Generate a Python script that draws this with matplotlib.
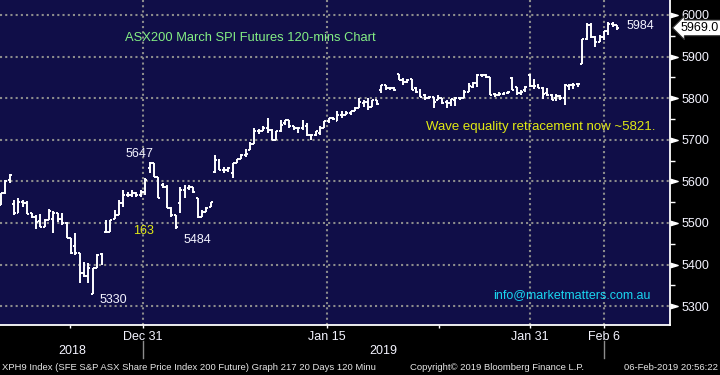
import numpy as np
import matplotlib.pyplot as plt
from matplotlib.lines import Line2D
from matplotlib.transforms import blended_transform_factory

# 120-min OHLC bars of XPH9 (SPI 200 March futures)
opens = [5543, 5571, 5603, 5545, 5523, 5551, 5549, 5523, 5515, 5505, 5491, 5507, 5509, 5525, 5509, 5499,
         5463, 5445, 5427, 5379, 5373, 5329, 5391, 5425,
         5479, 5479, 5509, 5519, 5547, 5567, 5567, 5571, 5567, 5575, 5631, 5643, 5611, 5591, 5587, 5535,
         5519, 5547, 5579, 5583, 5587, 5559, 5515, 5527, 5539,
         5623, 5651, 5627, 5627, 5619, 5643, 5655, 5663, 5675, 5691, 5720, 5720, 5728, 5724, 5699, 5720,
         5740, 5748, 5732, 5728, 5728,
         5732, 5712, 5712, 5716, 5728, 5744, 5752, 5744, 5760, 5760, 5764, 5768, 5776, 5788, 5792, 5780,
         5796, 5820, 5832, 5824, 5824, 5858, 5844, 5840,
         5846, 5824, 5816, 5808, 5800, 5802, 5796, 5800, 5792, 5788, 5796, 5800, 5800, 5816, 5828, 5836,
         5856, 5856, 5850, 5810, 5808, 5810, 5812, 5848,
         5828, 5812, 5820, 5856, 5830, 5830, 5825, 5812, 5808, 5800, 5806, 5800, 5830, 5832, 5834, 5881,
         5942, 5976, 5948, 5936, 5948, 5962, 5978, 5976]
highs = [5571, 5603, 5617, 5555, 5561, 5555, 5553, 5523, 5519, 5521, 5509, 5533, 5529, 5525, 5525, 5503,
         5465, 5475, 5427, 5407, 5405, 5391, 5425, 5427,
         5507, 5507, 5531, 5555, 5579, 5575, 5579, 5575, 5579, 5607, 5647, 5645, 5611, 5595, 5591, 5539,
         5519, 5587, 5591, 5591, 5587, 5559, 5531, 5539, 5551,
         5663, 5655, 5635, 5635, 5645, 5655, 5667, 5679, 5695, 5728, 5726, 5732, 5753, 5726, 5720, 5748,
         5748, 5748, 5732, 5730, 5748,
         5740, 5712, 5720, 5732, 5744, 5752, 5754, 5768, 5768, 5768, 5768, 5780, 5800, 5796, 5800, 5796,
         5796, 5832, 5832, 5828, 5826, 5858, 5848, 5846,
         5846, 5828, 5822, 5810, 5806, 5804, 5808, 5800, 5796, 5798, 5804, 5804, 5820, 5836, 5840, 5858,
         5858, 5858, 5852, 5812, 5814, 5816, 5817, 5852,
         5828, 5820, 5830, 5858, 5846, 5833, 5826, 5824, 5810, 5810, 5808, 5834, 5834, 5836, 5837, 5942,
         5980, 5980, 5950, 5952, 5962, 5984, 5984, 5976]
lows = [5543, 5569, 5595, 5519, 5523, 5539, 5521, 5511, 5485, 5491, 5491, 5507, 5477, 5503, 5495, 5463,
        5425, 5423, 5355, 5371, 5355, 5329, 5391, 5399,
        5477, 5479, 5509, 5519, 5539, 5563, 5563, 5563, 5563, 5567, 5619, 5611, 5559, 5583, 5535, 5515,
        5486, 5523, 5559, 5579, 5571, 5511, 5515, 5527, 5539,
        5619, 5627, 5619, 5623, 5607, 5643, 5655, 5659, 5675, 5691, 5714, 5720, 5716, 5699, 5699, 5718,
        5736, 5728, 5724, 5716, 5724,
        5708, 5700, 5708, 5712, 5728, 5740, 5748, 5744, 5752, 5760, 5760, 5768, 5776, 5780, 5772, 5780,
        5784, 5812, 5820, 5820, 5818, 5844, 5832, 5836,
        5820, 5812, 5804, 5796, 5798, 5777, 5796, 5786, 5776, 5782, 5782, 5796, 5800, 5816, 5824, 5828,
        5852, 5848, 5808, 5804, 5806, 5808, 5811, 5820,
        5808, 5808, 5816, 5828, 5822, 5824, 5798, 5806, 5796, 5794, 5796, 5784, 5820, 5822, 5826, 5881,
        5940, 5944, 5924, 5936, 5940, 5952, 5972, 5964]
closes = [5571, 5601, 5615, 5523, 5551, 5547, 5521, 5515, 5503, 5491, 5507, 5529, 5525, 5509, 5499, 5463,
          5427, 5427, 5379, 5373, 5391, 5391, 5423, 5413,
          5479, 5507, 5519, 5547, 5567, 5567, 5571, 5567, 5575, 5603, 5643, 5611, 5559, 5587, 5535, 5519,
          5490, 5579, 5583, 5587, 5575, 5515, 5527, 5535, 5551,
          5651, 5627, 5627, 5631, 5643, 5655, 5663, 5667, 5691, 5720, 5722, 5728, 5724, 5699, 5720, 5736,
          5748, 5732, 5728, 5728, 5732,
          5712, 5712, 5720, 5728, 5744, 5752, 5750, 5760, 5760, 5764, 5768, 5776, 5792, 5792, 5780, 5796,
          5786, 5832, 5824, 5824, 5820, 5844, 5840, 5844,
          5820, 5816, 5804, 5800, 5802, 5790, 5800, 5788, 5788, 5798, 5800, 5800, 5816, 5830, 5836, 5856,
          5856, 5852, 5808, 5808, 5810, 5812, 5814, 5820,
          5812, 5816, 5828, 5830, 5830, 5825, 5810, 5808, 5796, 5806, 5800, 5832, 5832, 5832, 5834, 5942,
          5976, 5948, 5936, 5948, 5962, 5978, 5976, 5968]

last_price = 5969.0
date_labels = ['Dec 31', 'Jan 15', 'Jan 31', 'Feb 6']
date_pos = [32.5, 74.6, 121.1, 138.0]      # bar index of the date ticks
minor_date_pos = [15.8, 100.2]
price_ticks = list(range(5300, 6001, 100))

BG = '#100e48'
WHITE = '#f4f4ff'
GRID = '#8c8c8c'

plt.rcParams['font.family'] = ['Liberation Sans', 'DejaVu Sans']

fig = plt.figure(figsize=(7.2, 3.75), dpi=100, facecolor='black')
ax = fig.add_axes([0, 50 / 375, 670 / 720, 325 / 375], facecolor=BG)

idx = np.arange(len(closes))
tw = 0.45
ax.vlines(idx, lows, highs, color='white', lw=1.4, zorder=3)
ax.hlines(opens, idx - tw, idx, color='white', lw=1.4, zorder=3)
ax.hlines(closes, idx, idx + tw, color='white', lw=1.4, zorder=3)

ax.set_xlim(-0.23, 153.1)
ax.set_ylim(5254.8, 6036)

# grid
ax.set_axisbelow(True)
ax.grid(True, which='major', color=GRID, linestyle=(0, (1, 1.5)), linewidth=1.5)

# right price axis
ax.yaxis.tick_right()
ax.set_yticks(price_ticks)
ax.set_yticks(list(range(5350, 6000, 100)), minor=True)
ax.tick_params(axis='y', which='major', length=0, pad=8, labelcolor=WHITE, labelsize=9)
ax.tick_params(axis='y', which='minor', length=3.5, width=1, color='white')
tr = blended_transform_factory(ax.transAxes, ax.transData)
ax.plot(np.ones(len(price_ticks)), price_ticks, linestyle='none', color='white',
        marker=[(0, -0.3), (1, 0), (0, 0.3)], markersize=11, transform=tr, clip_on=False, zorder=5)

# date axis
ax.set_xticks(date_pos)
ax.set_xticklabels(date_labels)
ax.set_xticks(minor_date_pos, minor=True)
ax.tick_params(axis='x', which='both', length=2.5, width=1, color='white', pad=2,
               labelcolor=WHITE, labelsize=9)

for s in ['top', 'left']:
    ax.spines[s].set_visible(False)
for s in ['right', 'bottom']:
    ax.spines[s].set_color('white')
    ax.spines[s].set_linewidth(1.3)

# last price tag
ax.text(1.0 + 11 / 670, last_price, '5969.0', transform=tr, ha='left', va='center', fontsize=9,
        color='black', clip_on=False, zorder=10,
        bbox=dict(boxstyle='larrow,pad=0.15', fc='white', ec='#333333', lw=0.8))

# annotations
ax.text(28.4, 5945, 'ASX200 March SPI Futures 120-mins Chart', color='#84ee84', fontsize=9.3,
        ha='left', va='center')
ax.text(97.3, 5731, 'Wave equality retracement now ~5821.', color='#e2ea14', fontsize=9.5,
        ha='left', va='center', zorder=6)
ax.text(112.6, 5327, 'info@marketmatters.com.au', color='#1ad6f0', fontsize=9.0,
        ha='left', va='center')
ax.text(31.6, 5666, '5647', color=WHITE, fontsize=9, ha='center', va='center')
ax.text(32.5, 5481, '163', color='#e2ea14', fontsize=9, ha='center', va='center')
ax.text(44.9, 5459, '5484', color=WHITE, fontsize=9, ha='center', va='center')
ax.text(25.6, 5315, '5330', color=WHITE, fontsize=9, ha='center', va='center')
ax.text(146.3, 5974, '5984', color=WHITE, fontsize=9, ha='center', va='center')

# bottom strip: years, separators, footer
fig.text(72 / 720, 1 - 351 / 375, '2018', color=WHITE, fontsize=9, ha='center', va='center')
fig.text(383 / 720, 1 - 351 / 375, '2019', color=WHITE, fontsize=9, ha='center', va='center')
for px in [143, 604]:
    fig.add_artist(Line2D([px / 720, px / 720], [1 - 341 / 375, 1 - 358 / 375], color='#8c8c8c', lw=1))

fig.text(2 / 720, 1 - 367.5 / 375,
         'XPH9 Index (SFE S&P ASX Share Price Index 200 Future) Graph 217 20 Days 120 Minu',
         color='#e6e6e6', fontsize=6.8, ha='left', va='center')
fig.text(410 / 720, 1 - 367.5 / 375, 'Copyright\u00a9 2019 Bloomberg Finance L.P.',
         color='#e6e6e6', fontsize=6.8, ha='left', va='center')
fig.text(718 / 720, 1 - 367.5 / 375, '06-Feb-2019 20:56:22',
         color='#e6e6e6', fontsize=6.8, ha='right', va='center')

fig.savefig('out.png', dpi=100, facecolor='black')
